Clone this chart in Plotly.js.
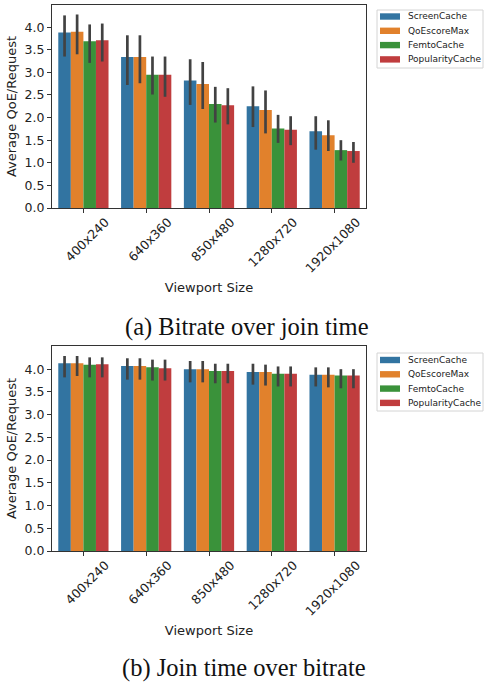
<!DOCTYPE html>
<html>
<head>
<meta charset="utf-8">
<script src="https://cdn.plot.ly/plotly-3.0.1.min.js"></script>
<style>html,body{margin:0;padding:0;background:#fff;}#chart{width:484px;height:683px;}</style>
</head>
<body>
<div id="chart"></div>
<script>
const categories = ['400x240','640x360','850x480','1280x720','1920x1080'];
const seriesNames = ['ScreenCache','QoEscoreMax','FemtoCache','PopularityCache'];
const colors = ['#3274a1','#e1812c','#3a923a','#c03d3e'];

// (a) Bitrate over join time
const aMean = [
  [3.88, 3.34, 2.82, 2.25, 1.70],
  [3.90, 3.34, 2.74, 2.17, 1.61],
  [3.69, 2.95, 2.30, 1.76, 1.28],
  [3.71, 2.95, 2.27, 1.73, 1.26]
];
const aHi = [
  [4.26, 3.82, 3.29, 2.69, 2.03],
  [4.28, 3.82, 3.23, 2.60, 1.94],
  [4.06, 3.35, 2.68, 2.06, 1.50],
  [4.08, 3.35, 2.65, 2.03, 1.46]
];
const aLo = [
  [3.35, 2.72, 2.28, 1.79, 1.29],
  [3.40, 2.76, 2.19, 1.65, 1.26],
  [3.21, 2.51, 1.89, 1.44, 1.05],
  [3.24, 2.46, 1.85, 1.39, 1.00]
];

// (b) Join time over bitrate
const bMean = [
  [4.13, 4.07, 4.00, 3.94, 3.88],
  [4.13, 4.07, 4.00, 3.94, 3.88],
  [4.10, 4.04, 3.96, 3.90, 3.86],
  [4.11, 4.02, 3.96, 3.90, 3.86]
];
const bHi = [
  [4.29, 4.24, 4.18, 4.12, 4.04],
  [4.29, 4.24, 4.18, 4.10, 4.04],
  [4.26, 4.21, 4.12, 4.06, 4.00],
  [4.26, 4.21, 4.12, 4.06, 4.00]
];
const bLo = [
  [3.82, 3.77, 3.71, 3.66, 3.62],
  [3.85, 3.77, 3.71, 3.64, 3.60],
  [3.82, 3.75, 3.69, 3.62, 3.58],
  [3.82, 3.75, 3.69, 3.62, 3.58]
];

const captions = ['(a) Bitrate over join time', '(b) Join time over bitrate'];
const yTitle = 'Average QoE/Request';
const xTitle = 'Viewport Size';
const yTickVals = [0, 0.5, 1, 1.5, 2, 2.5, 3, 3.5, 4];
const yTickText = ['0.0','0.5','1.0','1.5','2.0','2.5','3.0','3.5','4.0'];

const W = 484, H = 683;
const textColor = '#222';

const traces = [];
function addSet(mean, hi, lo, xa, ya) {
  for (let i = 0; i < seriesNames.length; i++) {
    traces.push({
      type: 'bar',
      name: seriesNames[i],
      x: categories,
      y: mean[i],
      xaxis: xa, yaxis: ya,
      showlegend: false,
      marker: {color: colors[i], line: {width: 0}},
      error_y: {
        type: 'data', symmetric: false,
        array: hi[i].map((v, k) => v - mean[i][k]),
        arrayminus: mean[i].map((v, k) => v - lo[i][k]),
        color: '#424242', thickness: 2.7, width: 0
      }
    });
  }
}
addSet(aMean, aHi, aLo, 'x', 'y');
addSet(bMean, bHi, bLo, 'x2', 'y2');

const tickFont = {family: 'DejaVu Sans', size: 12.5, color: textColor};
const titleFont = {family: 'DejaVu Sans', size: 13, color: textColor};
function xAxis(dom, anchor) {
  return {
    domain: dom, anchor: anchor, type: 'category',
    range: [-0.5, 4.5],
    showline: true, mirror: true, linecolor: '#333', linewidth: 1,
    ticks: 'outside', ticklen: 4, tickcolor: '#333', tickwidth: 1,
    tickangle: -45, ticklabelshift: 22, ticklabelstandoff: -3, tickfont: tickFont,
    showgrid: false, zeroline: false,
    title: {text: xTitle, font: titleFont, standoff: 8}
  };
}
function yAxis(dom, anchor, top) {
  return {
    domain: dom, anchor: anchor,
    range: [0, top],
    tickvals: yTickVals, ticktext: yTickText,
    showline: true, mirror: true, linecolor: '#333', linewidth: 1,
    ticks: 'outside', ticklen: 4, tickcolor: '#333', tickwidth: 1,
    tickfont: tickFont, showgrid: false, zeroline: false,
    title: {text: yTitle, font: titleFont, standoff: 5}
  };
}

// custom compact legends (matplotlib style), positioned in pixels
const shapes = [];
const annotations = [];
function addLegend(boxTop, boxBottom, firstY, step) {
  shapes.push({type: 'rect', xref: 'paper', yref: 'paper',
    x0: 377 / W, x1: 483 / W, y0: 1 - boxBottom / H, y1: 1 - boxTop / H,
    line: {color: '#d4d4d4', width: 1}, fillcolor: '#fff', layer: 'above'});
  seriesNames.forEach((nm, i) => {
    const yc = firstY + i * step;
    shapes.push({type: 'rect', xref: 'paper', yref: 'paper',
      x0: 380 / W, x1: 400 / W, y0: 1 - (yc + 3.2) / H, y1: 1 - (yc - 3.2) / H,
      line: {width: 0}, fillcolor: colors[i], layer: 'above'});
    annotations.push({text: nm, xref: 'paper', yref: 'paper', x: 406 / W, y: 1 - yc / H,
      xanchor: 'left', yanchor: 'middle', showarrow: false,
      font: {family: 'DejaVu Sans', size: 9, color: textColor}});
  });
}
addLegend(10, 68, 16.5, 14.3);
addLegend(353, 411, 360, 14.3);

annotations.push(
  {text: captions[0], xref: 'paper', yref: 'paper', x: 247 / W, y: 1 - 327 / H,
   xanchor: 'center', yanchor: 'middle', showarrow: false,
   font: {family: 'Liberation Serif', size: 24.5, color: '#111'}},
  {text: captions[1], xref: 'paper', yref: 'paper', x: 244 / W, y: 1 - 668 / H,
   xanchor: 'center', yanchor: 'middle', showarrow: false,
   font: {family: 'Liberation Serif', size: 24.5, color: '#111'}}
);

const xd = [52 / W, 366 / W];
const layout = {
  width: W, height: H,
  margin: {l: 0, r: 0, t: 0, b: 0},
  paper_bgcolor: '#fff', plot_bgcolor: '#fff',
  barmode: 'group', bargap: 0.2, bargroupgap: 0,
  showlegend: false,
  xaxis: xAxis(xd, 'y'),
  yaxis: yAxis([1 - 208 / H, 1 - 5 / H], 'x', 4.49),
  xaxis2: xAxis(xd, 'y2'),
  yaxis2: yAxis([1 - 551 / H, 1 - 346 / H], 'x2', 4.51),
  shapes: shapes,
  annotations: annotations
};
Plotly.newPlot('chart', traces, layout, {staticPlot: true, displayModeBar: false});
</script>
</body>
</html>
